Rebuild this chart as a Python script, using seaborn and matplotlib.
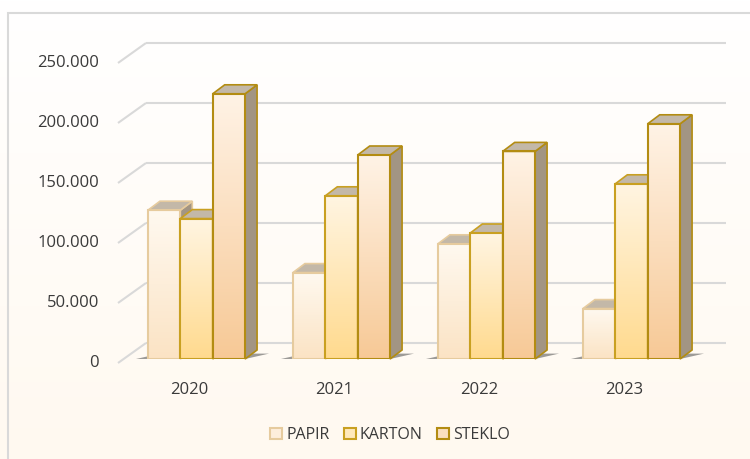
import numpy as np
import pandas as pd
import matplotlib
matplotlib.use("Agg")
import matplotlib.pyplot as plt
import seaborn as sns
from matplotlib.colors import LinearSegmentedColormap
from matplotlib.patches import Polygon, Patch, Rectangle
from matplotlib.transforms import offset_copy

sns.set_style("white")
plt.rcParams['font.family'] = ['Open Sans', 'DejaVu Sans']

# data
years = ['2020', '2021', '2022', '2023']
materials = ['PAPIR', 'KARTON', 'STEKLO']
papir = [124000, 72000, 96000, 42000]
karton = [117000, 136000, 105000, 146000]
steklo = [221000, 170000, 173000, 196000]
y_ticks = [0, 50000, 100000, 150000, 200000, 250000]

# colours: gradient top, gradient bottom, edge
front_top = {'PAPIR': '#FFF9F0', 'KARTON': '#FFF5E2', 'STEKLO': '#FFF3E6'}
front_bot = {'PAPIR': '#FBE3C4', 'KARTON': '#FFDA8E', 'STEKLO': '#F7C996'}
edge_col = {'PAPIR': '#E6CB9E', 'KARTON': '#C9A021', 'STEKLO': '#B38C12'}
legend_face = {'PAPIR': '#FDEEDC', 'KARTON': '#FFE9BC', 'STEKLO': '#FADFC0'}
side_col = '#A29583'
top_col = '#C3B8A8'
grid_col = '#D9D9D9'
text_col = '#3A3A3A'

df = pd.DataFrame({
    'year': years * 3,
    'material': [m for m in materials for _ in years],
    'value': papir + karton + steklo,
})

W, H = 750, 459
fig = plt.figure(figsize=(W / 100, H / 100), dpi=100)

# background gradient + border
bg = fig.add_axes([0, 0, 1, 1], zorder=-5)
bg.imshow(np.linspace(0, 1, 256).reshape(-1, 1), aspect='auto', extent=[0, 1, 0, 1],
          cmap=LinearSegmentedColormap.from_list('bg', ['#FFFFFF', '#FFF9F0']), origin='upper')
bg.set_xlim(0, 1)
bg.set_ylim(0, 1)
bg.axis('off')
fig.patches.append(Rectangle((8 / W, -0.1), 1.2, (H - 13) / H + 0.1, transform=fig.transFigure,
                             fill=False, edgecolor='#D9D9D9', linewidth=1.5, zorder=-4))

ax_l, ax_b, ax_w, ax_h = 124, 100, 580, 300
ax = fig.add_axes([ax_l / W, ax_b / H, ax_w / W, ax_h / H])
ax.set_facecolor('none')

sns.barplot(data=df, x='year', y='value', hue='material', hue_order=materials,
            palette=[legend_face[m] for m in materials], width=0.67, legend=False,
            ax=ax, saturation=1)

xmin, xmax = -0.5, 3.5
ymin, ymax = 0, 250000
ax.set_xlim(xmin, xmax)
ax.set_ylim(ymin, ymax)
sx = ax_w / (xmax - xmin)   # px per x unit
sy = ax_h / (ymax - ymin)   # px per y unit

# 3D depth offsets
dx, dy = 12 / sx, 9 / sy
# front plane and back wall offsets relative to the bar plane
fx, fy = -6 / sx, -4 / sy
bx, by = 22 / sx, 16 / sy

# gridlines: front stub + back wall
for v in y_ticks:
    ax.plot([xmin + fx, xmin + bx], [v + fy, v + by], color=grid_col, lw=1.5,
            clip_on=False, zorder=0.5, solid_capstyle='butt')
    ax.plot([xmin + bx, xmax + bx], [v + by, v + by], color=grid_col, lw=1.5,
            clip_on=False, zorder=0.5, solid_capstyle='butt')

# floor shadows under each group
for i in range(len(years)):
    gl, gr = i - 0.335, i + 0.335
    ax.add_patch(Polygon([(gl - 12 / sx, 0), (gr, 0), (gr + dx + 12 / sx, dy * 0.6),
                          (gl + dx, dy * 0.6)], closed=True, facecolor='#5A5A5A',
                         alpha=0.6, edgecolor='none', zorder=0.8, clip_on=False))

# turn flat bars into 3D columns
bars = []
for m, cont in zip(materials, ax.containers):
    for p in cont.patches:
        bars.append((p.get_x(), m, p))
bars.sort(key=lambda t: t[0])

for k, (x0, m, p) in enumerate(bars):
    z = 2 + k * 0.05
    w = p.get_width()
    h = p.get_height()
    x1 = x0 + w
    p.set_facecolor('none')
    p.set_edgecolor(edge_col[m])
    p.set_linewidth(1.5)
    p.set_zorder(z + 0.02)
    cmap = LinearSegmentedColormap.from_list(m, [front_top[m], front_bot[m]])
    im = ax.imshow(np.linspace(0, 1, 256).reshape(-1, 1), extent=[x0, x1, 0, h],
                   origin='upper', aspect='auto', cmap=cmap, zorder=z)
    im.set_clip_path(p)
    side = Polygon([(x1, 0), (x1 + dx, dy), (x1 + dx, h + dy), (x1, h)], closed=True,
                   facecolor=side_col, edgecolor=edge_col[m], linewidth=1.2,
                   zorder=z, clip_on=False)
    top = Polygon([(x0, h), (x0 + dx, h + dy), (x1 + dx, h + dy), (x1, h)], closed=True,
                  facecolor=top_col, edgecolor=edge_col[m], linewidth=1.2,
                  zorder=z + 0.01, clip_on=False)
    ax.add_patch(side)
    ax.add_patch(top)

ax.set_xlim(xmin, xmax)
ax.set_ylim(ymin, ymax)

# labels
ax.set_xticks([])
ax.set_yticks([])
ax.set_xlabel('')
ax.set_ylabel('')
for s in ax.spines.values():
    s.set_visible(False)

ylab_tr = offset_copy(ax.transData, fig=fig, x=-25, y=-4, units='dots')
for v in y_ticks:
    lbl = '0' if v == 0 else f'{v:,}'.replace(',', '.')
    ax.text(xmin, v, lbl, transform=ylab_tr, ha='right', va='center',
            fontsize=12, color=text_col, clip_on=False)

xlab_tr = offset_copy(ax.transData, fig=fig, x=-7, y=-31, units='dots')
for i, yr in enumerate(years):
    ax.text(i, 0, yr, transform=xlab_tr, ha='center', va='center',
            fontsize=12, color=text_col, clip_on=False)

handles = [Patch(facecolor=legend_face[m], edgecolor=edge_col[m], linewidth=1.5, label=m)
           for m in materials]
leg = fig.legend(handles=handles, loc='center', bbox_to_anchor=(390 / W, 24 / H), ncol=3,
                 frameon=False, handlelength=0.75, handleheight=0.75, handletextpad=0.25,
                 columnspacing=0.9, fontsize=11.5)
for t in leg.get_texts():
    t.set_color(text_col)

fig.savefig('out.png', dpi=100)
